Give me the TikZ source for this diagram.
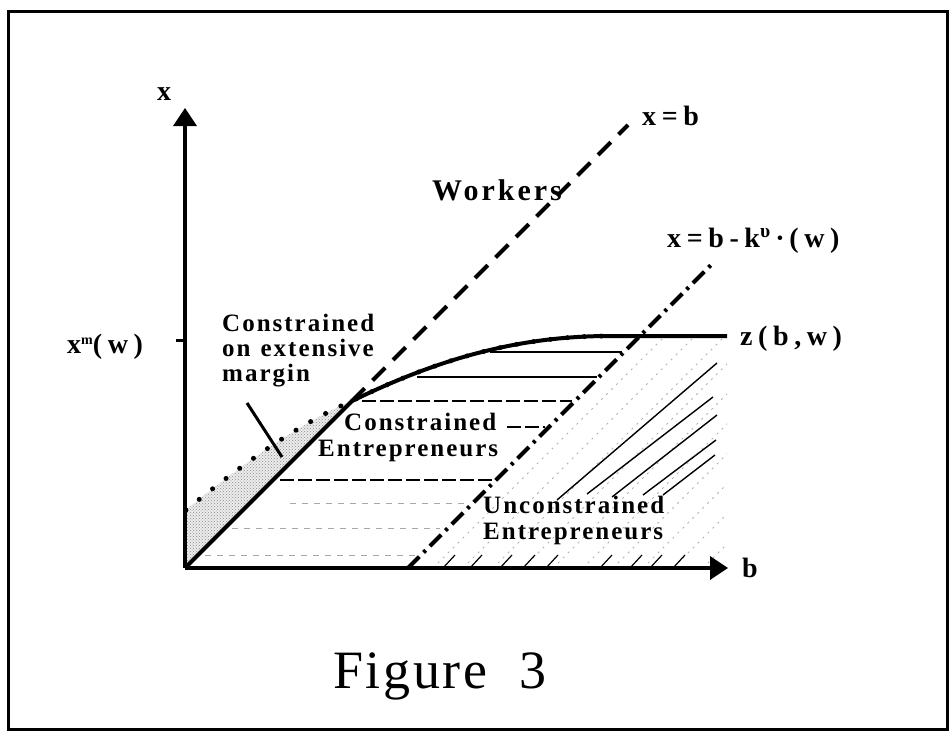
\documentclass[tikz,border=0pt]{standalone}
\usepackage{fontspec}
\setmainfont{Liberation Serif}
\newfontfamily\lblA[LetterSpace=8]{Liberation Serif}
\newfontfamily\lblW[LetterSpace=10]{Liberation Serif}
\newfontfamily\lblB[LetterSpace=20]{Liberation Serif}
\newfontfamily\figfont[LetterSpace=5]{Liberation Serif}
\usetikzlibrary{arrows.meta,patterns}
\begin{document}
\begin{tikzpicture}[x=1pt,y=-1pt,
  axis/.style={line width=3.6pt,-{Triangle[length=18pt,width=23pt]}},
  curve/.style={line width=4pt,line join=round},
  dashline/.style={line width=4pt,dash pattern=on 18pt off 11pt},
  dashdotline/.style={line width=4pt,dash pattern=on 16pt off 6pt on 3pt off 6pt},
  hatch/.style={line width=1.4pt},
  hatchdash/.style={line width=1.2pt,dash pattern=on 14pt off 4pt},
  faint/.style={line width=1pt,gray!70,dash pattern=on 6pt off 6pt},
  lbl/.style={font=\lblA\bfseries\fontsize{25}{26}\selectfont,inner sep=0pt,anchor=base west},
  mlbl/.style={font=\lblB\bfseries\fontsize{28}{30}\selectfont,inner sep=0pt,anchor=base west},
  bigl/.style={font=\lblW\bfseries\fontsize{30}{32}\selectfont,inner sep=0pt,anchor=base west}]
\useasboundingbox (0,0) rectangle (950,736);
\draw[line width=3pt] (8,11) rectangle (947,729);

\coordinate (O) at (185,568);
\coordinate (ytip) at (185,108);
\coordinate (xtip) at (728,568);
\coordinate (K) at (352,401);
\coordinate (F) at (610,336);
\coordinate (zend) at (727,336);
\coordinate (Btop) at (628,125);
\coordinate (Kb) at (408,568);
\coordinate (Ktop) at (713,263);
\coordinate (D0) at (186,510);
\coordinate (M) at (640,336);
\coordinate (tick) at (176,340);
\coordinate (tickE) at (185,340);
\coordinate (pA) at (247,403);
\coordinate (pB) at (282,457);

% stippled region (constrained on extensive margin)
\fill[gray!15] (O) -- (K) .. controls (300,423) and (245,462) .. (D0) -- cycle;
\fill[pattern=crosshatch dots,pattern color=gray!90] (O) -- (K) .. controls (300,423) and (245,462) .. (D0) -- cycle;

% horizontal hatching (constrained entrepreneurs)
\draw[hatch] (490,352) -- (622,352);
\draw[hatch] (417,377) -- (597,377);
\draw[hatchdash] (362,401) -- (572,401);
\draw[hatchdash] (507,427) -- (545,427);
\draw[hatchdash] (280,480) -- (492,480);
\draw[faint] (290,503) -- (470,503);
\draw[faint] (232,528) -- (440,528);
\draw[faint] (205,555) -- (420,555);

% diagonal hatching (unconstrained entrepreneurs)
\begin{scope}
\clip (Kb) -- (M) -- (zend) -- (727,568) -- cycle;
\foreach \s in {25,55,...,325}
  \draw[gray!60,line width=0.9pt,dash pattern=on 2pt off 5pt] (408+\s,568) -- ++(240,-240);
\foreach \s in {35,62,92,115,138,192,222,242,265}
  \draw[line width=1.2pt] (408+\s,568) -- ++(12,-13);
\end{scope}
\draw[hatch] (557,500) -- (717,363);
\draw[hatch] (587,494) -- (713,397);
\draw[hatch] (612,497) -- (717,415);
\draw[hatch] (643,495) -- (716,440);
\draw[hatch] (663,495) -- (715,455);

% axes
\draw[axis] (O) -- (ytip);
\draw[axis] (O) -- (xtip);
\draw[line width=3pt] (tick) -- (tickE);

% curves
\draw[curve] (O) -- (K) .. controls (440,358) and (520,336) .. (F) -- (zend);
\draw[line width=5pt,line cap=round,dash pattern=on 0pt off 17pt] (D0) .. controls (245,462) and (300,423) .. (K) .. controls (440,358) and (520,336) .. (F);
\draw[dashline] (K) -- (Btop);
\draw[dashdotline] (Kb) -- (Ktop);
\draw[line width=3pt] (pA) -- (pB);

% labels
\node[mlbl] (lx) at (157,100) {x};
\node[mlbl] (lb) at (742,577) {b};
\node[mlbl] (lxb) at (642,125) {x=b};
\node[mlbl] (lxbk) at (667,247) {x=b-k\textsuperscript{υ}\,·\,(w)};
\node[mlbl] (lz) at (740,345) {z(b,w)};
\node[mlbl] (lxm) at (67,353) {x\raisebox{9pt}{\fontsize{14}{14}\selectfont m}(w)};
\node[bigl] (lw) at (432,200) {Workers};
\node[lbl] (lcem1) at (222,331) {Constrained};
\node[lbl] (lcem2) at (222,356) {on\hspace{10pt}extensive};
\node[lbl] (lcem3) at (222,381) {margin};
\node[lbl] (lc1) at (344,430) {Constrained};
\node[lbl] (lc2) at (318,456) {Entrepreneurs};
\node[lbl] (lu1) at (483,513) {Unconstrained};
\node[lbl] (lu2) at (483,539) {Entrepreneurs};
\node[font=\figfont\fontsize{54}{58}\selectfont,inner sep=0pt,anchor=base west] (fig) at (333,688) {Figure\hspace{32pt}3};
\end{tikzpicture}
\end{document}
